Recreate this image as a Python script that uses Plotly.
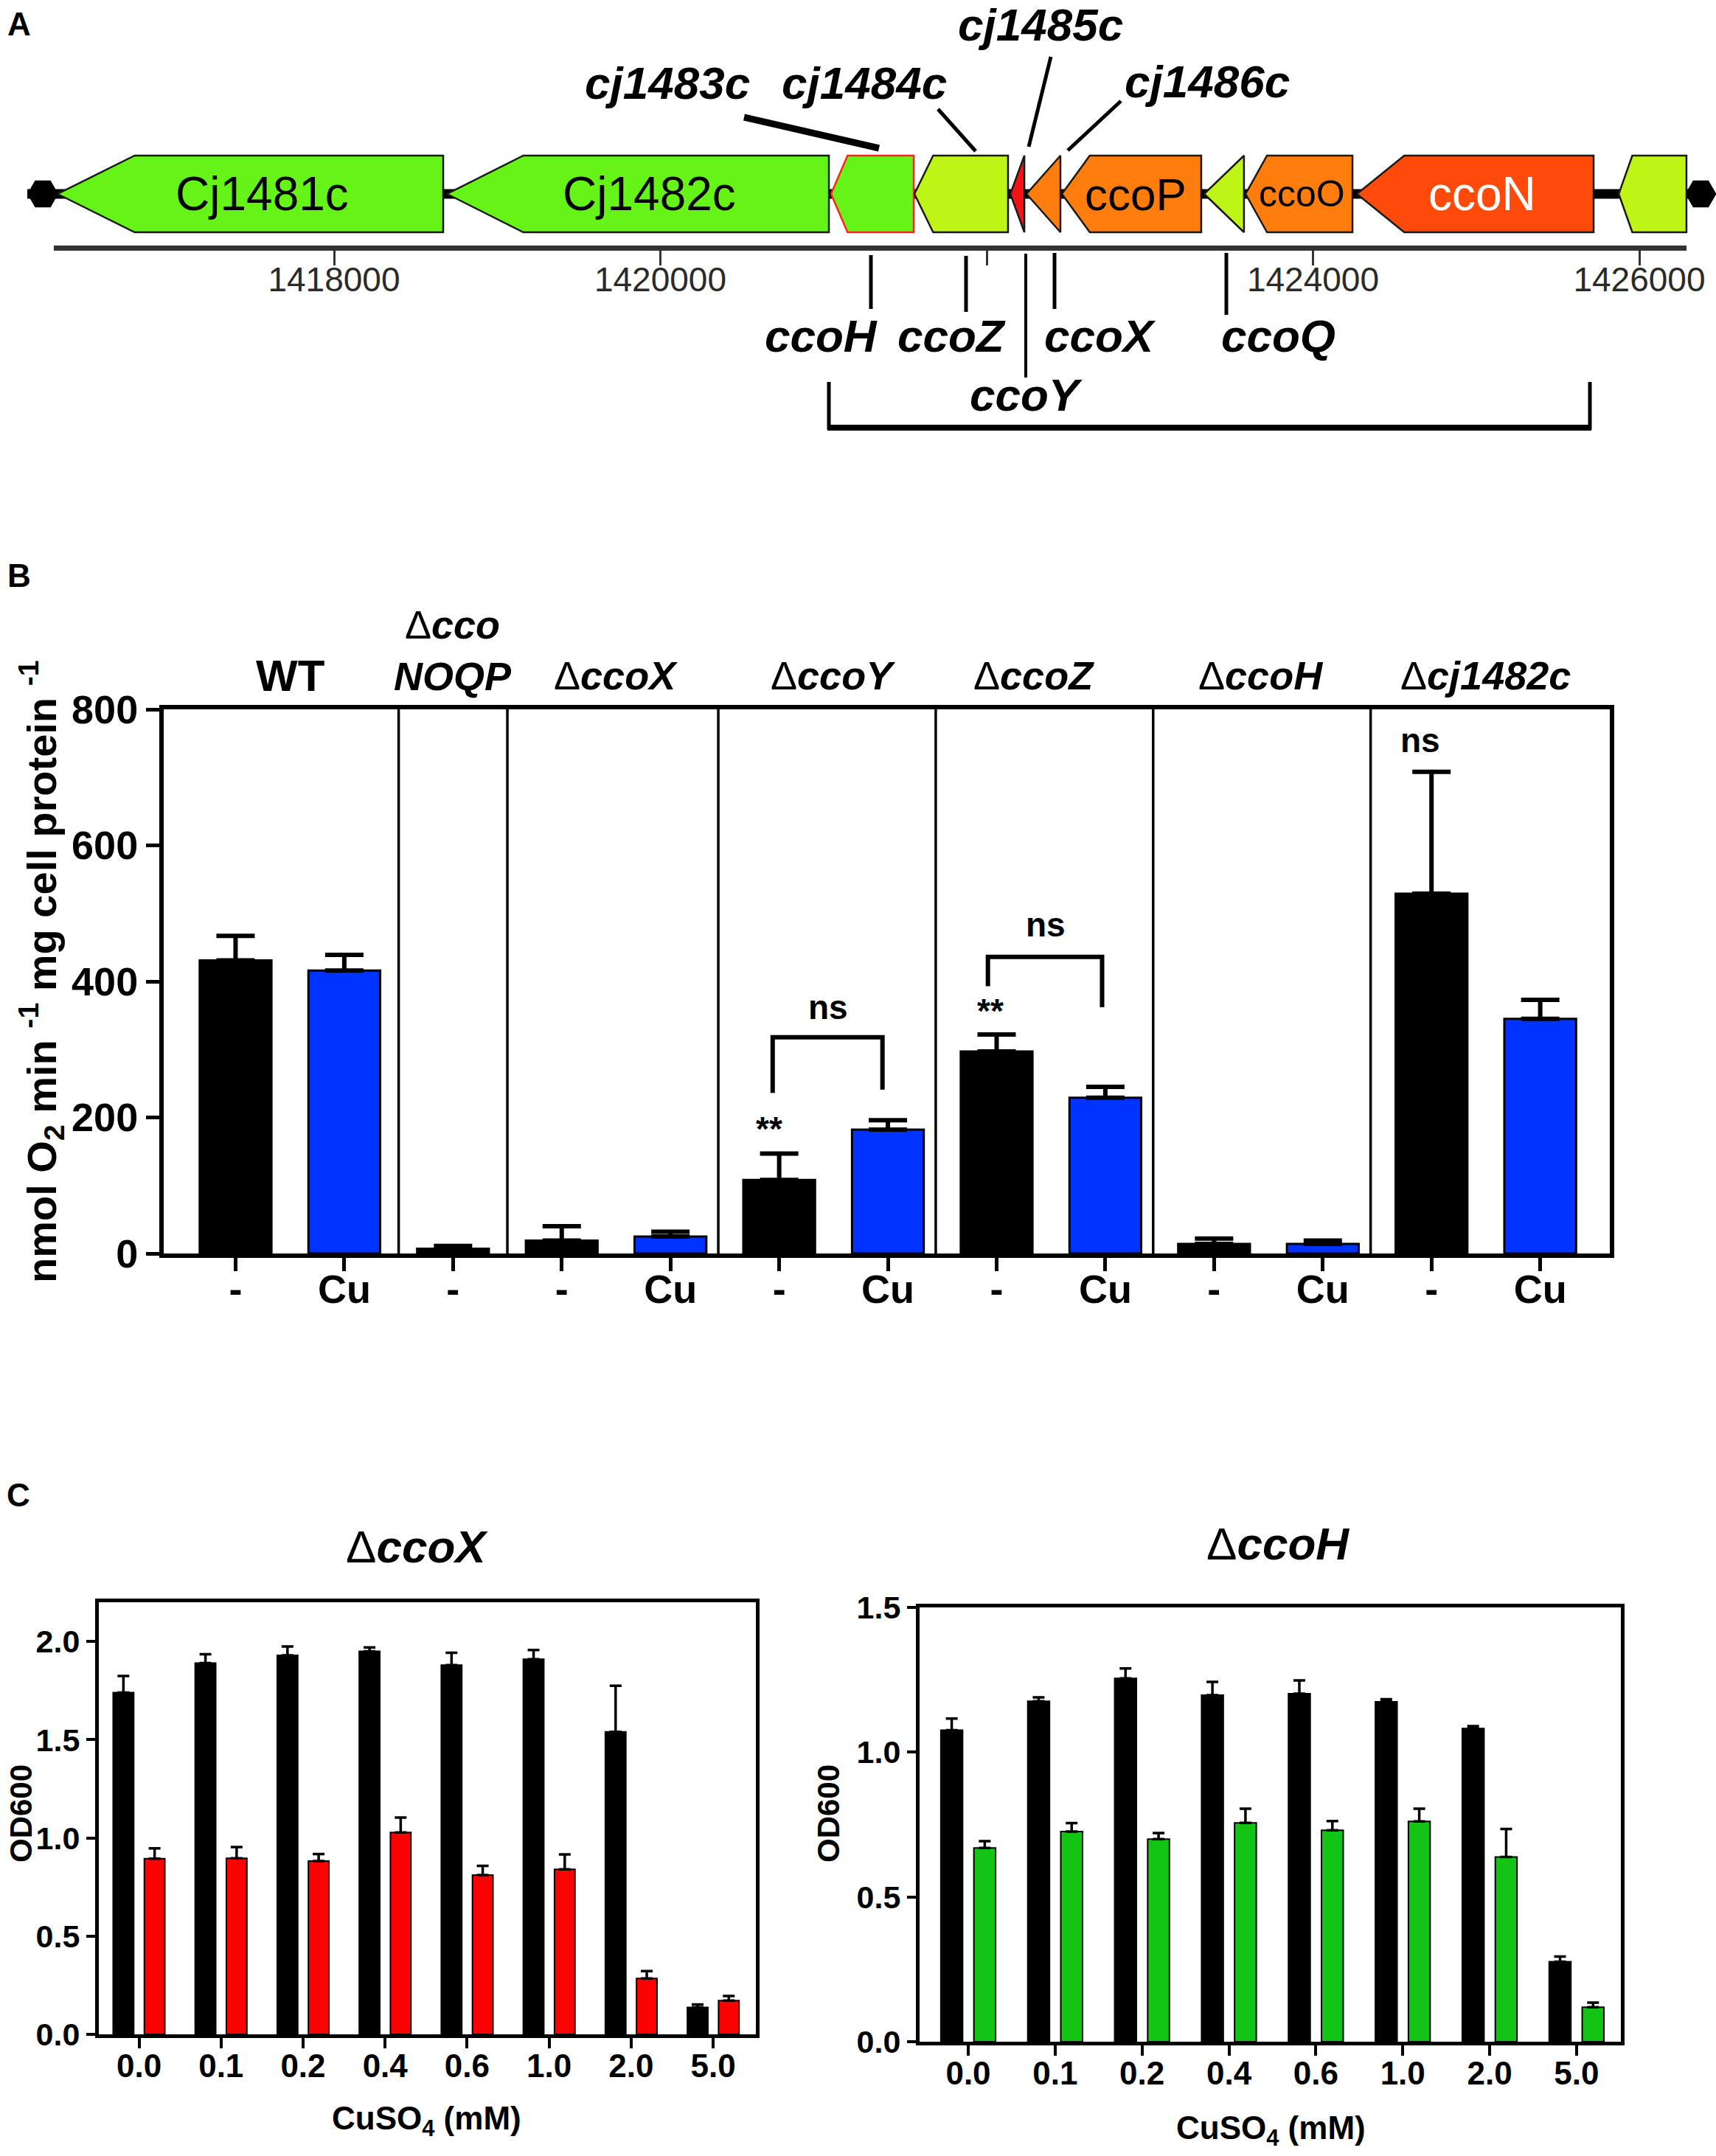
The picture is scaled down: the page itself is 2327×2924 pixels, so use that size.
import plotly.graph_objects as go

W, H = 2327, 2924
FONT = "Liberation Sans, Arial, sans-serif"

# ---------------- data ----------------
# A: gene map, all genes on the complementary strand (arrows point left)
gene_names = ["Cj1481c", "Cj1482c", "cj1483c", "cj1484c", "cj1485c", "cj1486c",
              "ccoP", "ccoQ", "ccoO", "ccoN", "cj1491c"]
gene_start = [1416305, 1418692, 1421046, 1421557, 1422145, 1422244,
              1422461, 1423333, 1423587, 1424269, 1425874]
gene_end = [1418669, 1421033, 1421553, 1422131, 1422231, 1422452,
            1423315, 1423577, 1424242, 1425720, 1426289]
region = [1416120, 1426457]
ruler_ticks = [1418000, 1420000, 1424000, 1426000]
ruler_text = ["1418000", "1420000", "1424000", "1426000"]
ruler_minor = [1422000]

# B: oxygen consumption
bar_strain = ["WT", "WT", "ΔccoNOQP", "ΔccoX", "ΔccoX", "ΔccoY", "ΔccoY",
              "ΔccoZ", "ΔccoZ", "ΔccoH", "ΔccoH", "Δcj1482c", "Δcj1482c"]
bar_treat = ["-", "Cu", "-", "-", "Cu", "-", "Cu", "-", "Cu", "-", "Cu", "-", "Cu"]
o2_rate = [431, 416, 7, 19, 25, 108, 182, 297, 229, 14, 14, 529, 345]
o2_err = [36, 23, 4, 21, 7, 39, 14, 25, 16, 8, 5, 179, 28]

# C: growth with CuSO4
cuso4 = ["0.0", "0.1", "0.2", "0.4", "0.6", "1.0", "2.0", "5.0"]
ccoX_wt = [1.74, 1.89, 1.93, 1.95, 1.88, 1.91, 1.54, 0.137]
ccoX_wt_err = [0.085, 0.045, 0.045, 0.02, 0.063, 0.047, 0.235, 0.015]
ccoX_mut = [0.894, 0.896, 0.882, 1.028, 0.811, 0.840, 0.284, 0.172]
ccoX_mut_err = [0.053, 0.058, 0.036, 0.076, 0.047, 0.076, 0.038, 0.023]
ccoH_wt = [1.076, 1.176, 1.255, 1.197, 1.202, 1.174, 1.082, 0.276]
ccoH_wt_err = [0.04, 0.013, 0.034, 0.046, 0.046, 0.009, 0.008, 0.018]
ccoH_mut = [0.669, 0.726, 0.700, 0.756, 0.730, 0.761, 0.638, 0.119]
ccoH_mut_err = [0.024, 0.029, 0.021, 0.049, 0.032, 0.044, 0.097, 0.016]

# ---------------- styles ----------------
GREEN, LIME, RED, ORANGE, RORANGE = "#66F418", "#BFF516", "#F01414", "#FF7D0C", "#FF4A0C"
gene_fill = [GREEN, GREEN, GREEN, LIME, RED, ORANGE, ORANGE, LIME, ORANGE, RORANGE, LIME]
gene_line = ["#1a1a1a", "#1a1a1a", "#FF2020"] + ["#1a1a1a"] * 8
inner_label = {"Cj1481c": (64, "black"), "Cj1482c": (64, "black"),
               "ccoP": (62, "black"), "ccoO": (50, "black"), "ccoN": (64, "white")}


def gx(px):
    # pixel column -> genome position for panel A
    return 1418000 + (px - 453) / 0.22125


def py(px):
    return 1 - px / H


fig = go.Figure()
ann = []
shapes = []


def text(s, x, y, size, xref="paper", yref="paper", bold=True, italic=False, angle=0, color="black"):
    if xref == "paper":
        x = x / W
    if yref == "paper":
        y = py(y)
    ann.append(dict(text=s, x=x, y=y, xref=xref, yref=yref, showarrow=False, textangle=angle,
                    xanchor="center", yanchor="middle",
                    font=dict(family=FONT, size=size, color=color,
                              weight="bold" if bold else "normal",
                              style="italic" if italic else "normal")))


# ---------------- A ----------------
YT, YB, YC = 211, 315, 263
fig.add_trace(go.Scatter(x=region, y=[YC, YC], mode="lines", line=dict(color="black", width=13),
                         xaxis="x", yaxis="y", hoverinfo="skip", showlegend=False))
fig.add_trace(go.Scatter(x=[region[0] + 95, region[1] - 80], y=[YC, YC], mode="markers",
                         marker=dict(symbol="hexagon2", size=42, color="black"),
                         xaxis="x", yaxis="y", hoverinfo="skip", showlegend=False))
for name, s, e, fc, lc in zip(gene_names, gene_start, gene_end, gene_fill, gene_line):
    L = e - s
    head = L if L < 300 else 0.2 * L
    fig.add_trace(go.Scatter(x=[s, s + head, e, e, s + head, s],
                             y=[YC, YT, YT, YB, YB, YC], mode="lines", fill="toself",
                             fillcolor=fc, line=dict(color=lc, width=2.5),
                             xaxis="x", yaxis="y", name=name, showlegend=False))
    if name in inner_label:
        sz, col = inner_label[name]
        text(name, (s + e) / 2 + 0.03 * L, YC, sz, xref="x", yref="y", bold=False, color=col)

# invisible trace carrying the ruler axis
fig.add_trace(go.Scatter(x=[gx(73), gx(2287)], y=[0, 0], mode="markers", marker=dict(opacity=0),
                         xaxis="x2", yaxis="y2", hoverinfo="skip", showlegend=False))

top_labels = [("cj1483c", 905, 112), ("cj1484c", 1172, 112), ("cj1485c", 1411, 33), ("cj1486c", 1637, 110)]
bot_labels = [("ccoH", 1113, 455), ("ccoZ", 1290, 455), ("ccoX", 1492, 455), ("ccoQ", 1733, 455), ("ccoY", 1392, 535)]
for t, x, y in top_labels + bot_labels:
    text(t, gx(x), y, 62, xref="x", yref="y", italic=True)

leaders = [((1009, 159), (1192, 201), 9), ((1272, 148), (1323, 205), 5),
           ((1425, 77), (1395, 199), 5), ((1520, 137), (1448, 204), 5),
           ((1181, 346), (1181, 419), 5), ((1310, 347), (1310, 423), 5),
           ((1391, 344), (1391, 512), 4), ((1430, 343), (1430, 419), 5),
           ((1663, 343), (1663, 427), 5)]
for (x0, y0), (x1, y1), w in leaders:
    shapes.append(dict(type="line", xref="x", yref="y", x0=gx(x0), y0=y0, x1=gx(x1), y1=y1,
                       line=dict(color="black", width=w)))
shapes.append(dict(type="path", xref="x", yref="y",
                   path=f"M {gx(1124)},518 L {gx(1124)},580 L {gx(2156)},580 L {gx(2156)},518",
                   line=dict(color="black", width=5)))
shapes.append(dict(type="line", xref="x", yref="y", x0=gx(1122), y0=580, x1=gx(2158), y1=580,
                   line=dict(color="black", width=8)))

# ---------------- B ----------------
xs = list(range(len(o2_rate)))
for treat, col in [("-", "black"), ("Cu", "#0033FF")]:
    idx = [i for i in xs if bar_treat[i] == treat]
    fig.add_trace(go.Bar(x=idx, y=[o2_rate[i] for i in idx], width=0.66,
                         marker=dict(color=col, line=dict(color="black", width=3)),
                         error_y=dict(type="data", array=[o2_err[i] for i in idx],
                                      arrayminus=[0] * len(idx), symmetric=False,
                                      color="black", thickness=6, width=26),
                         xaxis="x3", yaxis="y3", showlegend=False, name=treat))

groups = []
for i, s in enumerate(bar_strain):
    if not groups or groups[-1][0] != s:
        groups.append([s, []])
    groups[-1][1].append(i)
label_nudge = {"ΔccoZ": -0.16, "ΔccoH": -0.07}
for gi, (s, members) in enumerate(groups):
    cx = sum(members) / len(members) + label_nudge.get(s, 0)
    if s == "WT":
        text("WT", cx, 916, 60, xref="x3")
    elif s == "ΔccoNOQP":
        text("Δ<b><i>cco</i></b><br><b><i>NOQP</i></b>", cx, 882, 54, xref="x3", bold=False)
    else:
        text("Δ<b><i>" + s[1:] + "</i></b>", cx, 916, 54, xref="x3", bold=False)
    if gi > 0:
        sep = members[0] - 0.5 - (0.06 if gi > 2 else 0)
        shapes.append(dict(type="line", xref="x3", yref="y3", x0=sep, x1=sep, y0=0, y1=800,
                           line=dict(color="black", width=3.5)))

# significance marks
for s, x, y in [("ns", 10.9, 755), ("**", 4.91, 183), ("**", 6.94, 357), ("ns", 5.45, 362), ("ns", 7.45, 484)]:
    text(s, x, y, 46, xref="x3", yref="y3")
for x0, x1, top, l0, l1 in [(4.94, 5.95, 318, 236, 241), (6.92, 7.97, 436, 393, 362)]:
    shapes.append(dict(type="path", xref="x3", yref="y3",
                       path=f"M {x0},{l0} L {x0},{top} L {x1},{top} L {x1},{l1}",
                       line=dict(color="black", width=6)))

text("nmol O<sub>2</sub> min <sup>-1</sup> mg cell protein <sup>-1</sup>", 56, 1318, 56, angle=-90)

# ---------------- C ----------------
cx_idx = list(range(len(cuso4)))
for (wt, wte, mu, mue, mcol, xa, ya) in [
        (ccoX_wt, ccoX_wt_err, ccoX_mut, ccoX_mut_err, "#FF0000", "x4", "y4"),
        (ccoH_wt, ccoH_wt_err, ccoH_mut, ccoH_mut_err, "#14C414", "x5", "y5")]:
    for vals, errs, col, off in [(wt, wte, "black", -0.315), (mu, mue, mcol, 0.065)]:
        fig.add_trace(go.Bar(x=cx_idx, y=vals, width=0.25, offset=off,
                             marker=dict(color=col, line=dict(color="black", width=2)),
                             error_y=dict(type="data", array=errs, arrayminus=[0] * len(errs),
                                          symmetric=False, color="black", thickness=3.5, width=8),
                             xaxis=xa, yaxis=ya, showlegend=False))

text("Δ<b><i>ccoX</i></b>", 565, 2097, 62, bold=False)
text("Δ<b><i>ccoH</i></b>", 1733, 2093, 62, bold=False)
text("OD600", 28, 2460, 42, angle=-90)
text("OD600", 1123, 2460, 42, angle=-90)
text("CuSO<sub>4</sub> (mM)", 578, 2876, 44)
text("CuSO<sub>4</sub> (mM)", 1723, 2889, 44)

# panel letters
text("A", 26, 33, 44)
text("B", 26, 781, 44)
text("C", 25, 2027, 44)

# ---------------- layout ----------------
def frame(lw, tl, tw, fs, standoff=0):
    return dict(showline=True, linecolor="black", linewidth=lw, mirror=True, ticks="outside",
                ticklen=tl, tickwidth=tw, tickcolor="black", showgrid=False, zeroline=False,
                automargin=False, ticklabelstandoff=standoff,
                tickfont=dict(family=FONT, size=fs, color="black", weight="bold"))


fig.update_layout(
    width=W, height=H, margin=dict(l=0, r=0, t=0, b=0, pad=0, autoexpand=False),
    paper_bgcolor="white", plot_bgcolor="rgba(0,0,0,0)", barmode="overlay",
    annotations=ann, shapes=shapes,
    xaxis=dict(domain=[0, 1], range=[gx(0), gx(W)], visible=False, anchor="y"),
    yaxis=dict(domain=[py(640), 1], range=[640, 0], visible=False, anchor="x"),
    xaxis2=dict(domain=[73 / W, 2287 / W], range=[gx(73), gx(2287)], anchor="y2",
                showline=True, linecolor="#333", linewidth=7, ticks="outside", ticklen=20,
                tickwidth=3, tickcolor="#333", tickvals=ruler_ticks, ticktext=ruler_text,
                minor=dict(tickvals=ruler_minor, ticks="outside", ticklen=20, tickwidth=3,
                           tickcolor="#333"),
                showgrid=False, zeroline=False, automargin=False, ticklabelstandoff=-20,
                tickfont=dict(family=FONT, size=46, color="#2a2a2a")),
    yaxis2=dict(domain=[py(333), py(300)], range=[0, 1], visible=False, anchor="x2"),
    xaxis3=dict(domain=[222 / W, 2183 / W], range=[-0.661, 12.64], anchor="y3",
                tickvals=xs, ticktext=bar_treat, **frame(6, 18, 5, 54, -22)),
    yaxis3=dict(domain=[py(1700), py(962)], range=[0, 800], anchor="x3",
                tickvals=[0, 200, 400, 600, 800], **frame(6, 18, 5, 54)),
    xaxis4=dict(domain=[134 / W, 1025 / W], range=[-0.49, 7.52], anchor="y4",
                tickvals=cx_idx, ticktext=cuso4, **frame(5, 14, 4, 44, -14)),
    yaxis4=dict(domain=[py(2759), py(2173)], range=[0, 2.2], anchor="x4",
                tickvals=[0, 0.5, 1, 1.5, 2], ticktext=["0.0", "0.5", "1.0", "1.5", "2.0"],
                **frame(5, 12, 4, 43)),
    xaxis5=dict(domain=[1247 / W, 2198 / W], range=[-0.56, 7.51], anchor="y5",
                tickvals=cx_idx, ticktext=cuso4, **frame(5, 14, 4, 44, -14)),
    yaxis5=dict(domain=[py(2769), py(2180)], range=[0, 1.5], anchor="x5",
                tickvals=[0, 0.5, 1, 1.5], ticktext=["0.0", "0.5", "1.0", "1.5"],
                **frame(5, 12, 4, 43)),
)

fig.write_html("out.html", config={"displayModeBar": False},
               post_script="document.body.style.margin='0px';")
